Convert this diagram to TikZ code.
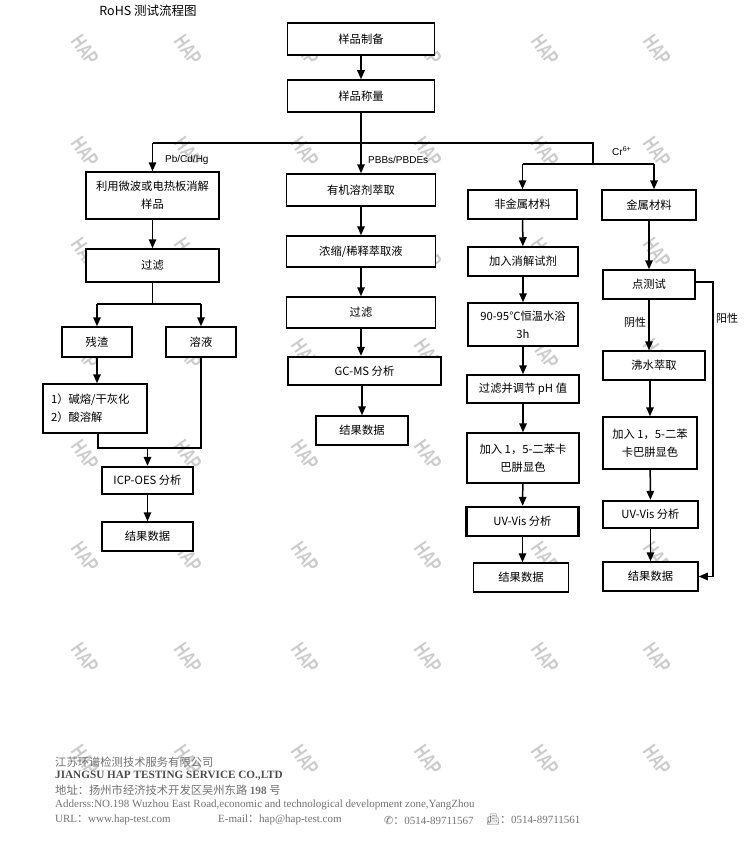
\documentclass[tikz,border=0pt]{standalone}
\usepackage{fontspec}
\setmainfont{Noto Sans CJK SC}
\newfontfamily\cjk{Noto Sans CJK SC}
\newfontfamily\lsans{Liberation Sans}
\newfontfamily\lserif{Liberation Serif}
\newfontfamily\dejavu{DejaVu Sans}
\newfontfamily\emojifont{Noto Emoji}
\usetikzlibrary{arrows.meta}
\tikzset{
  box/.style={draw, line width=1.5pt, fill=white, inner sep=0pt, align=center,
    font=\fontsize{11.3}{18}\selectfont},
  tbox/.style={box, line width=2.3pt},
  arr/.style={line width=1.5pt, -{Triangle[length=9pt,width=7.5pt]}},
  ln/.style={line width=1.5pt},
  lbl/.style={inner sep=0pt, font=\lsans\fontsize{10}{12}\selectfont},
  wm/.style={inner sep=0pt, text=black!20, rotate=-55, font=\lsans\bfseries\fontsize{21}{21}\selectfont},
  ft/.style={inner sep=0pt, anchor=west, text=black!55, font=\lserif\fontsize{11}{12}\selectfont}
}
\begin{document}
\begin{tikzpicture}[x=1pt,y=-1pt]
\useasboundingbox (0,0) rectangle (750,859);
\fill[white] (0,0) rectangle (750,859);
% watermarks
\foreach \wx in {85,188,305,428,545,657}
  \foreach \wy in {50,152,253,354,455,557,658,760}
    \node[wm] (wm-\wx-\wy) at (\wx,\wy) {\scalebox{0.7}[1]{HAP}};
% title
\node[inner sep=0pt, font=\fontsize{12.5}{14}\selectfont] (title) at (148,11) {RoHS 测试流程图};
% top
\node[box, minimum width=147pt, minimum height=32pt] (prep)  at (361,39) {样品制备};
\node[box, minimum width=147pt, minimum height=32pt] (weigh) at (361,96) {样品称量};
% left column
\node[box, minimum width=133pt, minimum height=47pt] (digest) at (152.5,195.5) {利用微波或电热板消解\\样品};
\node[box, minimum width=133pt, minimum height=33pt] (filt1) at (152.5,265.5) {过滤};
\node[box, minimum width=70pt, minimum height=30pt] (resid) at (97,342) {残渣};
\node[box, minimum width=70pt, minimum height=30pt] (soln) at (201,342) {溶液};
\node[box, minimum width=104pt, minimum height=49pt, text width=88pt, align=left] (fusion) at (95,408.5) {1）碱熔/干灰化\\2）酸溶解};
\node[tbox, minimum width=91pt, minimum height=27pt] (icp) at (147.5,480.5) {ICP-OES 分析};
\node[box, minimum width=91pt, minimum height=29pt] (res1) at (147.5,536.5) {结果数据};
% middle column
\node[box, minimum width=149pt, minimum height=32pt] (org) at (361,190) {有机溶剂萃取};
\node[box, minimum width=149pt, minimum height=31pt] (conc) at (361,251.5) {浓缩/稀释萃取液};
\node[box, minimum width=149pt, minimum height=31pt] (filt2) at (361,312.5) {过滤};
\node[tbox, minimum width=153pt, minimum height=28pt] (gcms) at (364.5,371) {GC-MS 分析};
\node[box, minimum width=92pt, minimum height=29pt] (res2) at (362,430.5) {结果数据};
% right column 1
\node[box, minimum width=109pt, minimum height=29pt] (nonmet) at (522.5,204.5) {非金属材料};
\node[box, minimum width=110pt, minimum height=29pt] (addreag) at (523,261.5) {加入消解试剂};
\node[box, minimum width=110pt, minimum height=43pt] (bath) at (523,324.5) {90-95℃恒温水浴\\3h};
\node[box, minimum width=112pt, minimum height=28pt] (filtph) at (523,389) {过滤并调节 pH 值};
\node[box, minimum width=112pt, minimum height=50pt] (color1) at (523,458) {加入 1，5-二苯卡\\巴肼显色};
\node[tbox, minimum width=112pt, minimum height=29pt] (uv1) at (522.5,521.5) {UV-Vis 分析};
\node[box, minimum width=95pt, minimum height=29pt] (res3) at (521,577.5) {结果数据};
% right column 2
\node[box, minimum width=94pt, minimum height=30pt] (metal) at (649,205) {金属材料};
\node[box, minimum width=92pt, minimum height=29pt] (spot) at (649,284.5) {点测试};
\node[box, minimum width=102pt, minimum height=29pt] (boil) at (654,365.5) {沸水萃取};
\node[box, minimum width=94pt, minimum height=52pt] (color2) at (650,443) {加入 1，5-二苯\\卡巴肼显色};
\node[tbox, minimum width=95pt, minimum height=27pt] (uv2) at (650.5,514.5) {UV-Vis 分析};
\node[box, minimum width=95pt, minimum height=29pt] (res4) at (650.5,576.5) {结果数据};
% labels
\node[lbl, anchor=west] (lpb) at (165,160) {Pb/Cd/Hg};
\node[lbl, anchor=west] (lpbb) at (368,160) {PBBs/PBDEs};
\node[lbl, anchor=west] (lcr) at (612,151) {Cr\textsuperscript{6+}};
\node[lbl, font=\fontsize{11}{12}\selectfont] (lneg) at (635,322) {阴性};
\node[lbl, font=\fontsize{11}{12}\selectfont] (lpos) at (727,318) {阳性};
% junction coordinates
\coordinate (jl) at (152.5,143);
\coordinate (jr) at (593,143);
\coordinate (jc) at (593,164);
\coordinate (jcl) at (522.5,164);
\coordinate (jcr) at (654,164);
\coordinate (j2) at (152.5,304);
\coordinate (j2l) at (97,304);
\coordinate (j2r) at (201,304);
\coordinate (j3l) at (98,448);
\coordinate (j3r) at (201,448);
\coordinate (j3) at (147.5,448);
\coordinate (pos) at (713,282);
% connectors
\draw[arr] (prep) -- (weigh);
\draw[arr] (weigh) -- (org);
\draw[ln] (jl) -- (jr) -- (jc);
\draw[arr] (jl) -- (digest);
\draw[ln] (jcl) -- (jcr);
\draw[arr] (jcl) -- (nonmet);
\draw[arr] (jcr) -- (jcr |- metal.north);
\draw[arr] (digest) -- (filt1);
\draw[ln] (filt1) -- (j2);
\draw[ln] (j2l) -- (j2r);
\draw[arr] (j2l) -- (resid);
\draw[arr] (j2r) -- (soln);
\draw[arr] (resid.south) -- (resid.south |- fusion.north);
\draw[ln] (fusion.south -| j3l) -- (j3l) -- (j3r) -- (soln.south);
\draw[arr] (j3) -- (icp);
\draw[arr] (icp) -- (res1);
\draw[arr] (org) -- (conc);
\draw[arr] (conc) -- (filt2);
\draw[arr] (filt2.south) -- (filt2.south |- gcms.north);
\draw[arr] (gcms.south -| res2.north) -- (res2.north);
\draw[arr] (nonmet) -- (addreag);
\draw[arr] (addreag) -- (bath);
\draw[arr] (bath) -- (filtph);
\draw[arr] (filtph) -- (color1);
\draw[arr] (color1) -- (uv1);
\draw[arr] (uv1.south) -- (uv1.south |- res3.north);
\draw[arr] (metal) -- (spot);
\draw[arr] (spot.south) -- (spot.south |- boil.north);
\draw[arr] (color2.north |- boil.south) -- (color2.north);
\draw[arr] (color2) -- (uv2);
\draw[arr] (uv2) -- (res4);
\draw[arr] (spot.east |- pos) -- (pos) -- (pos |- res4.east) -- (res4.east);
% footer
\node[ft, font=\cjk\fontsize{11.3}{12}\selectfont] (f1) at (55,762) {江苏环谱检测技术服务有限公司};
\node[ft, text=black!70, font=\lserif\bfseries\fontsize{11.2}{12}\selectfont] (f2) at (55,776) {JIANGSU HAP TESTING SERVICE CO.,LTD};
\node[ft, font=\cjk\fontsize{11.3}{12}\selectfont] (f3) at (55,790) {地址：扬州市经济技术开发区吴州东路 {\lserif\bfseries 198} 号};
\node[ft] (f4) at (55,805) {Adderss:NO.198 Wuzhou East Road,economic and technological development zone,YangZhou};
\node[ft] (f5) at (55,820) {URL{\cjk ：}www.hap-test.com};
\node[ft] (f6) at (218,820) {E-mail{\cjk ：}hap@hap-test.com};
\node[ft] (f7) at (384,820) {{\dejavu ✆}{\cjk ：}0514-89711567};
\node[ft] (f8) at (486,820) {{\emojifont 📠}{\cjk ：}0514-89711561};
\end{tikzpicture}
\end{document}
